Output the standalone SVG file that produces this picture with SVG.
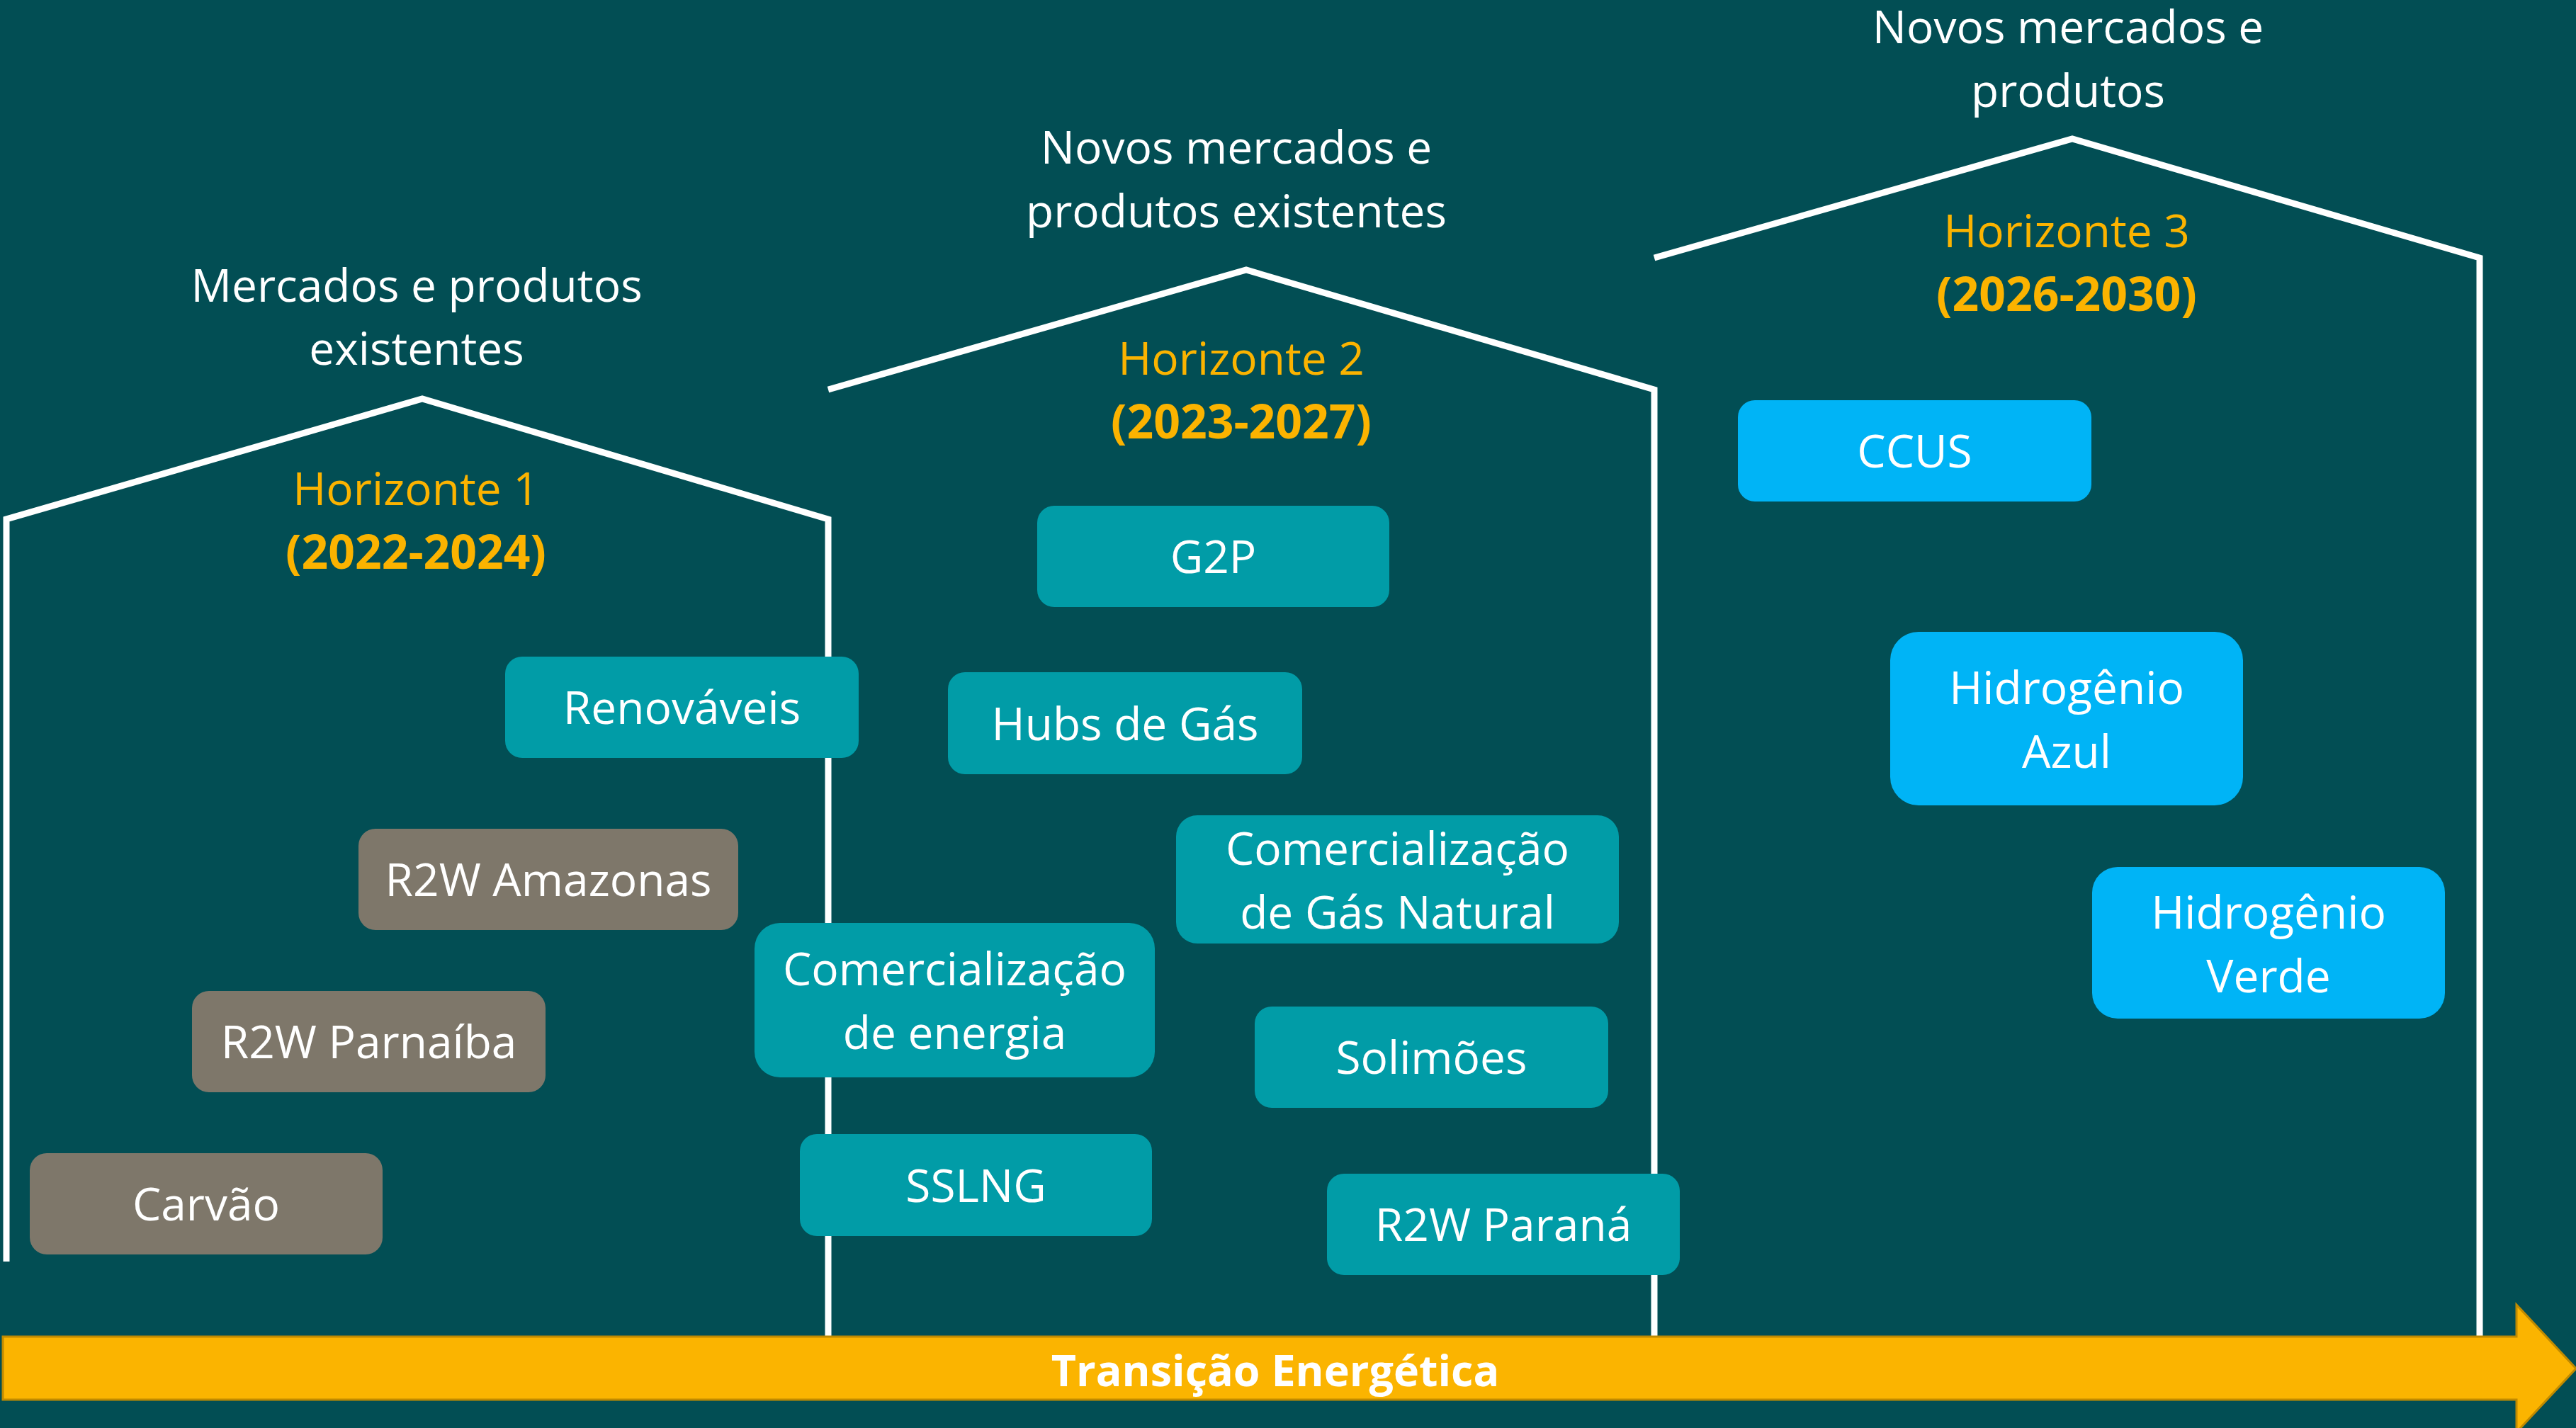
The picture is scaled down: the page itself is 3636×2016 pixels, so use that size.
<svg xmlns="http://www.w3.org/2000/svg" width="3636" height="2016" viewBox="0 0 3636 2016">
<style>
.bg{fill:#024E54}
.house{fill:none;stroke:#FFFFFF;stroke-width:9;stroke-linejoin:miter}
.teal{fill:#019CA7}
.gray{fill:#7E776A}
.blue{fill:#00B4F6}
.lbl{font-family:"Open Sans","Liberation Sans",sans-serif;font-size:64px;fill:#FFFFFF;text-anchor:middle}
.title{font-family:"Open Sans","Liberation Sans",sans-serif;font-size:64px;fill:#FFFFFF;text-anchor:middle}
.hz{font-family:"Open Sans","Liberation Sans",sans-serif;font-size:64px;fill:#FBB300;text-anchor:middle}
.hzb{font-family:"Open Sans","Liberation Sans",sans-serif;font-size:66px;font-weight:bold;fill:#FBB300;text-anchor:middle}
.arrowtxt{font-family:"Open Sans","Liberation Sans",sans-serif;font-size:61px;font-weight:bold;fill:#FFFFFF;text-anchor:middle}
</style>
<rect class="bg" x="0" y="0" width="3636" height="2016"/>
<g id="houses">
<polyline class="house" points="9,1781 9,733 596,563 1169,733 1169,1887"/>
<polyline class="house" points="1169,550 1759,381 2335,550 2335,1887"/>
<polyline class="house" points="2335,364 2925,196 3500,364 3500,1887"/>
</g>
<g id="titles">
<text class="title" x="588" y="426">Mercados e produtos</text>
<text class="title" x="588" y="515">existentes</text>
<text class="title" x="1745" y="231">Novos mercados e</text>
<text class="title" x="1745" y="321">produtos existentes</text>
<text class="title" x="2919" y="61">Novos mercados e</text>
<text class="title" x="2919" y="151">produtos</text>
<text class="hz" x="587" y="713">Horizonte 1</text>
<text class="hzb" x="587" y="803">(2022-2024)</text>
<text class="hz" x="1752" y="529">Horizonte 2</text>
<text class="hzb" x="1752" y="619">(2023-2027)</text>
<text class="hz" x="2917" y="349">Horizonte 3</text>
<text class="hzb" x="2917" y="439">(2026-2030)</text>
</g>
<g id="connectors">
<path id="arrow" d="M4,1887 L3552,1887 L3552,1842 L3636,1932 L3552,2022 L3552,1976 L4,1976 Z" fill="#FBB400" stroke="#C08A00" stroke-width="3"/>
<text class="arrowtxt" x="1800" y="1957">Transição Energética</text>
</g>
<g id="node-renovaveis"><rect class="teal" x="713" y="927" width="499" height="143" rx="24"/><text class="lbl" x="962.5" y="1022">Renováveis</text></g>
<g id="node-r2w-amazonas"><rect class="gray" x="506" y="1170" width="536" height="143" rx="24"/><text class="lbl" x="774" y="1265">R2W Amazonas</text></g>
<g id="node-r2w-parnaiba"><rect class="gray" x="271" y="1399" width="499" height="143" rx="24"/><text class="lbl" x="520.5" y="1494">R2W Parnaíba</text></g>
<g id="node-carvao"><rect class="gray" x="42" y="1628" width="498" height="143" rx="24"/><text class="lbl" x="291" y="1723">Carvão</text></g>
<g id="node-g2p"><rect class="teal" x="1464" y="714" width="497" height="143" rx="24"/><text class="lbl" x="1712.5" y="809">G2P</text></g>
<g id="node-hubs"><rect class="teal" x="1338" y="949" width="500" height="144" rx="24"/><text class="lbl" x="1588" y="1045">Hubs de Gás</text></g>
<g id="node-com-gas"><rect class="teal" x="1660" y="1151" width="625" height="181" rx="30"/><text class="lbl" x="1972.5" y="1221">Comercialização</text><text class="lbl" x="1972.5" y="1311">de Gás Natural</text></g>
<g id="node-com-energia"><rect class="teal" x="1065" y="1303" width="565" height="218" rx="36"/><text class="lbl" x="1347.5" y="1391">Comercialização</text><text class="lbl" x="1347.5" y="1481">de energia</text></g>
<g id="node-solimoes"><rect class="teal" x="1771" y="1421" width="499" height="143" rx="24"/><text class="lbl" x="2020.5" y="1516">Solimões</text></g>
<g id="node-sslng"><rect class="teal" x="1129" y="1601" width="497" height="144" rx="24"/><text class="lbl" x="1377.5" y="1697">SSLNG</text></g>
<g id="node-r2w-parana"><rect class="teal" x="1873" y="1657" width="498" height="143" rx="24"/><text class="lbl" x="2122" y="1752">R2W Paraná</text></g>
<g id="node-ccus"><rect class="blue" x="2453" y="565" width="499" height="143" rx="24"/><text class="lbl" x="2702.5" y="660">CCUS</text></g>
<g id="node-h2-azul"><rect class="blue" x="2668" y="892" width="498" height="245" rx="40"/><text class="lbl" x="2917" y="994">Hidrogênio</text><text class="lbl" x="2917" y="1084">Azul</text></g>
<g id="node-h2-verde"><rect class="blue" x="2953" y="1224" width="498" height="214" rx="36"/><text class="lbl" x="3202" y="1311">Hidrogênio</text><text class="lbl" x="3202" y="1401">Verde</text></g>
</svg>
